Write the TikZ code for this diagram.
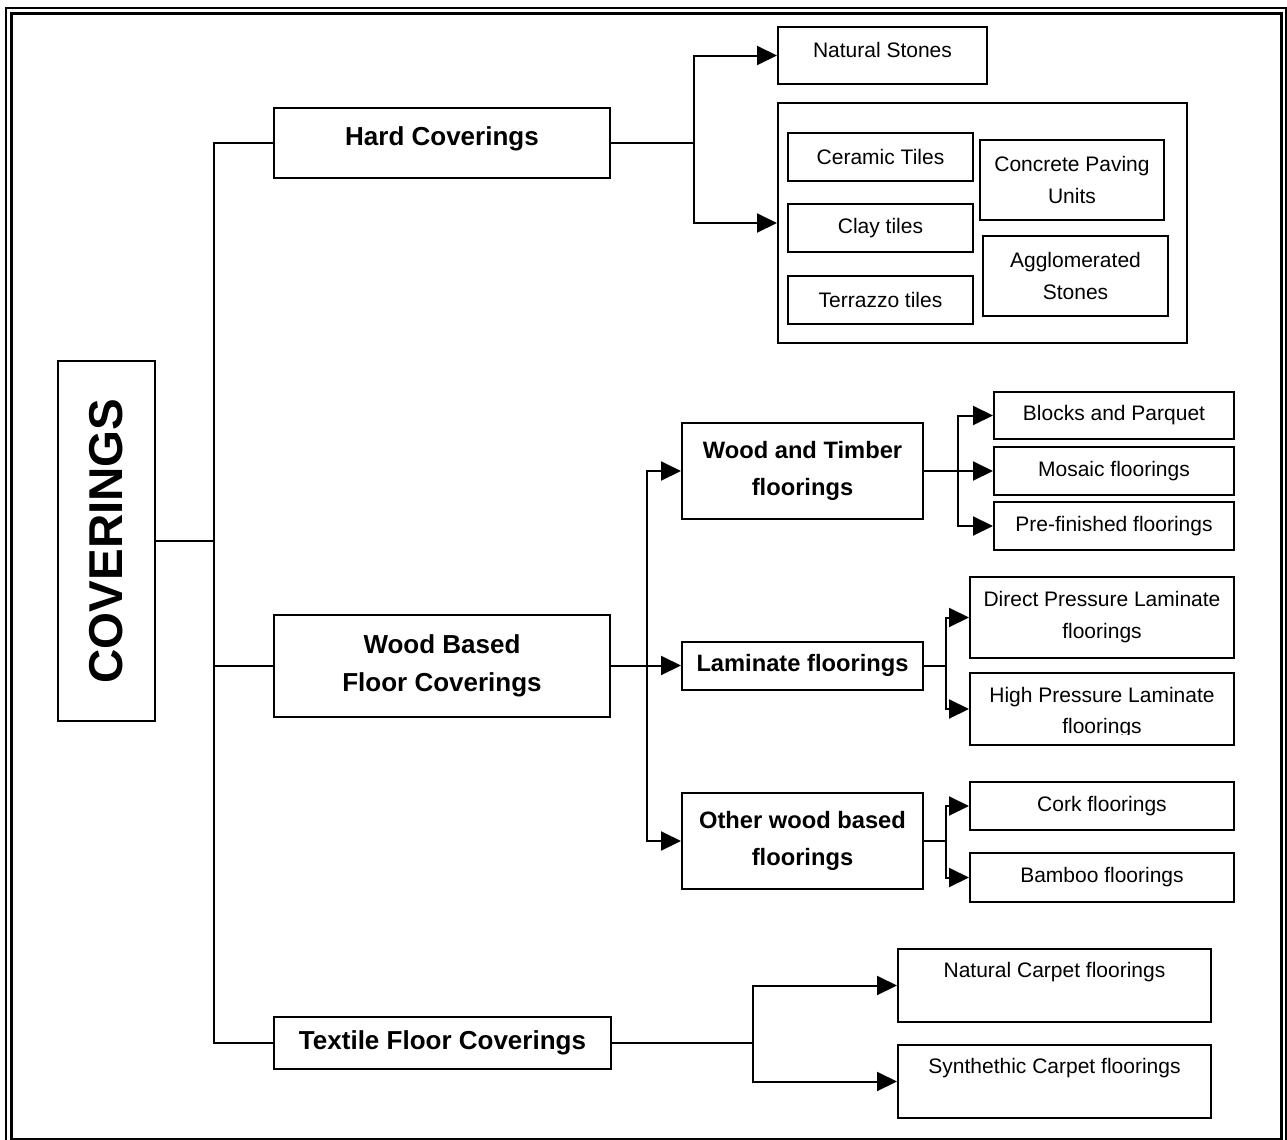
\documentclass[tikz,border=0pt]{standalone}
\usepackage{fontspec}
\setmainfont{Liberation Sans}
\usepackage{graphicx}
\usetikzlibrary{arrows.meta}
\begin{document}
\begin{tikzpicture}[x=0.5pt,y=-0.5pt,
  box/.style={draw, line width=1pt, inner sep=0pt, align=center, font=\fontsize{10.5}{16}\selectfont},
  mainbox/.style={box, font=\fontsize{13}{19}\selectfont\bfseries},
  subbox/.style={box, font=\fontsize{11.85}{18.5}\selectfont\bfseries},
  conn/.style={line width=1pt},
  arr/.style={conn, -{Triangle[length=10pt,width=9.5pt]}},
]
\useasboundingbox (0,0) rectangle (1287,1140);
% page border
\draw[line width=0.8pt] (5.8,8.2) rectangle (1286,1146);
\draw[line width=1.3pt] (11.3,13.7) rectangle (1281.3,1139.5);

% root
\node[box, minimum width=48.5pt, minimum height=180pt, font=\fontsize{23.75}{28}\selectfont\bfseries] (cov) at (106.5,541) {\rotatebox{90}{COVERINGS}};

% level 1
\node[mainbox, minimum width=168pt, minimum height=35pt, text height=9.3pt, text depth=6.7pt] (hard) at (442,143) {Hard Coverings};
\node[mainbox, minimum width=168pt, minimum height=51pt] (wood) at (442,665.5) {Wood Based\\Floor Coverings};
\node[mainbox, minimum width=168.5pt, minimum height=26pt] (textile) at (442.5,1043) {Textile Floor Coverings};

% hard coverings children
\node[box, minimum width=104.5pt, minimum height=28.5pt, text height=7.6pt, text depth=5.7pt] (nat) at (882.5,55.5) {Natural Stones};
\node[box, minimum width=204.5pt, minimum height=120pt] (grp) at (982.5,223) {};
\node[box, minimum width=92.5pt, minimum height=24pt] (cer) at (880.5,157) {Ceramic Tiles};
\node[box, minimum width=92.5pt, minimum height=24pt] (clay) at (880.5,228) {Clay tiles};
\node[box, minimum width=92.5pt, minimum height=24pt] (terr) at (880.5,300) {Terrazzo tiles};
\node[box, minimum width=92pt, minimum height=40pt] (conc) at (1072,180) {Concrete Paving\\Units};
\node[box, minimum width=92.5pt, minimum height=40pt] (aggl) at (1075.5,276) {Agglomerated\\Stones};

% wood based children
\node[subbox, minimum width=120.5pt, minimum height=48pt] (wt) at (802.5,471) {Wood and Timber\\floorings};
\node[subbox, minimum width=120.5pt, minimum height=24pt] (lam) at (802.5,665.5) {Laminate floorings};
\node[subbox, minimum width=120.5pt, minimum height=48pt] (oth) at (802.5,841) {Other wood based\\floorings};

\node[box, minimum width=120pt, minimum height=23.5pt] (blk) at (1114,415.5) {Blocks and Parquet};
\node[box, minimum width=120pt, minimum height=24pt] (mos) at (1114,471) {Mosaic floorings};
\node[box, minimum width=120pt, minimum height=24pt] (pre) at (1114,526) {Pre-finished floorings};

\node[box, minimum width=132pt, minimum height=40.5pt] (dir) at (1102,617.5) {Direct Pressure Laminate\\floorings};
\node[box, minimum width=132pt, minimum height=36pt] (high) at (1102,709) {};
\begin{scope}
  \clip (970,673) rectangle (1234,734);
  \node[align=center, inner sep=0pt, font=\fontsize{10.5}{15.5}\selectfont] (hightext) at (1102,713) {High Pressure Laminate\\floorings};
\end{scope}

\node[box, minimum width=132pt, minimum height=24pt] (cork) at (1102,806) {Cork floorings};
\node[box, minimum width=132pt, minimum height=24.5pt] (bam) at (1102,877.5) {Bamboo floorings};

% textile children
\node[box, minimum width=156.5pt, minimum height=36.5pt] (ncar) at (1054.5,985.5) {Natural Carpet floorings\\\mbox{}};
\node[box, minimum width=156.5pt, minimum height=36.5pt] (scar) at (1054.5,1081.5) {Synthethic Carpet floorings\\\mbox{}};

% junctions
\coordinate (j1) at (214,541);
\coordinate (j2) at (694,143);
\coordinate (j3) at (647,665.5);
\coordinate (j4) at (958,471);
\coordinate (j5) at (946,665.5);
\coordinate (j6) at (946,841);
\coordinate (j7) at (753,1043);

% connectors
\draw[conn] (cov.east) -- (j1);
\draw[conn] (j1) |- (hard.west);
\draw[conn] (j1) |- (wood.west);
\draw[conn] (j1) |- (textile.west);

\draw[conn] (hard.east) -- (j2);
\draw[arr] (j2) |- (nat.west);
\draw[arr] (j2) |- (grp.west);

\draw[conn] (wood.east) -- (j3);
\draw[arr] (j3) |- (wt.west);
\draw[arr] (j3) -- (lam.west);
\draw[arr] (j3) |- (oth.west);

\draw[conn] (wt.east) -- (j4);
\draw[arr] (j4) |- (blk.west);
\draw[arr] (j4) -- (mos.west);
\draw[arr] (j4) |- (pre.west);

\draw[conn] (lam.east) -- (j5);
\draw[arr] (j5) |- (dir.west);
\draw[arr] (j5) |- (high.west);

\draw[conn] (oth.east) -- (j6);
\draw[arr] (j6) |- (cork.west);
\draw[arr] (j6) |- (bam.west);

\draw[conn] (textile.east) -- (j7);
\draw[arr] (j7) |- (ncar.west);
\draw[arr] (j7) |- (scar.west);
\end{tikzpicture}
\end{document}
